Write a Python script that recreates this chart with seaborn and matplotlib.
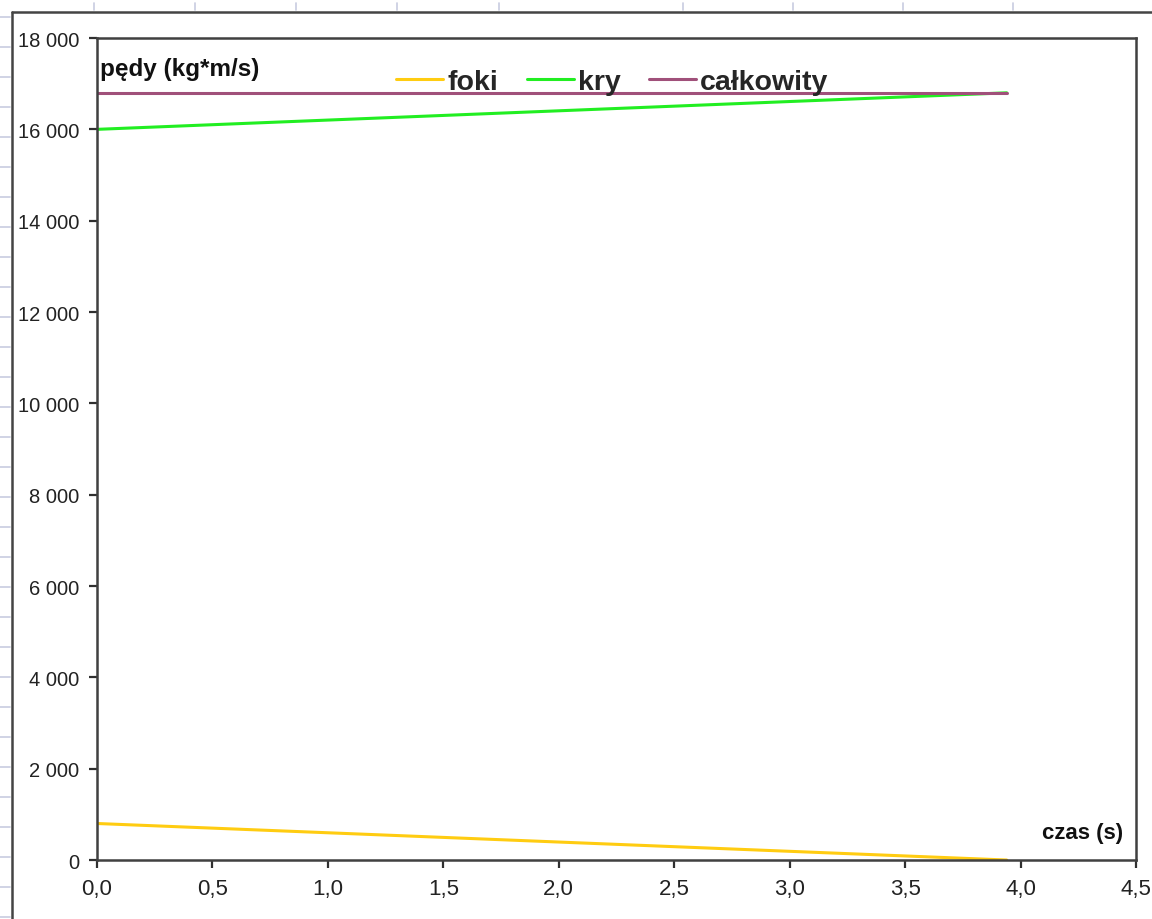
import numpy as np
import pandas as pd
import seaborn as sns
import matplotlib
matplotlib.use("Agg")
import matplotlib.pyplot as plt
from matplotlib.ticker import FuncFormatter, MultipleLocator
from matplotlib.lines import Line2D

# ---- data ----
czas = [0.0, 3.94]
foki = [800, 0]
kry = [16000, 16800]
calkowity = [16800, 16800]
series_names = ["foki", "kry", "całkowity"]
colors = ["#FFCC11", "#22EE22", "#A0507A"]

df = pd.concat([
    pd.DataFrame({"czas": czas, "ped": foki, "seria": "foki"}),
    pd.DataFrame({"czas": czas, "ped": kry, "seria": "kry"}),
    pd.DataFrame({"czas": czas, "ped": calkowity, "seria": "całkowity"}),
], ignore_index=True)

sns.set_theme(style="white")
plt.rcParams["font.family"] = ["Liberation Sans", "DejaVu Sans"]

fig = plt.figure(figsize=(11.52, 9.2), dpi=100)
ax = fig.add_axes([0.0842, 0.0641, 0.9019, 0.8935])

sns.lineplot(data=df, x="czas", y="ped", hue="seria", hue_order=series_names,
             palette=dict(zip(series_names, colors)), linewidth=2.2, ax=ax,
             legend=False)

ax.set_xlim(0, 4.5)
ax.set_ylim(0, 18000)
ax.xaxis.set_major_locator(MultipleLocator(0.5))
ax.yaxis.set_major_locator(MultipleLocator(2000))
ax.xaxis.set_major_formatter(FuncFormatter(lambda v, p: f"{v:.1f}".replace(".", ",")))
ax.yaxis.set_major_formatter(FuncFormatter(lambda v, p: f"{int(v):,}".replace(",", " ")))
ax.set_xlabel("")
ax.set_ylabel("")

for s in ax.spines.values():
    s.set_visible(True)
    s.set_color("#404040")
    s.set_linewidth(1.8)

ax.tick_params(axis="both", direction="out", length=6, width=1.6, color="#303030",
               labelcolor="#222222", left=True, bottom=True)
ax.tick_params(axis="x", labelsize=16, pad=7)
ax.tick_params(axis="y", labelsize=14.5, pad=7)

ax.text(0.003, 0.977, "pędy (kg*m/s)", transform=ax.transAxes, ha="left", va="top",
        fontsize=17.5, fontweight="bold", color="#111111")
ax.text(0.988, 0.034, "czas (s)", transform=ax.transAxes, ha="right", va="center",
        fontsize=16, fontweight="bold", color="#111111")

handles = [Line2D([0], [0], color=c, lw=2.2) for c in colors]
leg = ax.legend(handles, series_names, loc="center", bbox_to_anchor=(0.496, 0.946),
                ncol=3, frameon=False, handlelength=1.65, handletextpad=0.15,
                columnspacing=1.0, prop={"size": 20.5, "weight": "bold"})

# chart-area border of the spreadsheet object
fig.add_artist(Line2D([12 / 1152, 1.0], [1 - 13 / 920, 1 - 13 / 920],
                      transform=fig.transFigure, color="#444444", lw=1.8))
fig.add_artist(Line2D([12 / 1152, 12 / 1152], [0, 1 - 13 / 920],
                      transform=fig.transFigure, color="#444444", lw=1.8))
# spreadsheet grid tick stubs
for yy in range(18, 920, 30):
    fig.add_artist(Line2D([0, 10 / 1152], [1 - yy / 920, 1 - yy / 920],
                          transform=fig.transFigure, color="#C8CCE0", lw=1.2))
for xx in [94, 195, 296, 397, 499, 683, 793, 903, 1013]:
    fig.add_artist(Line2D([xx / 1152, xx / 1152], [1 - 4 / 920, 1 - 11 / 920],
                          transform=fig.transFigure, color="#C8CCE0", lw=1.2))

fig.savefig("out.png", dpi=100)
